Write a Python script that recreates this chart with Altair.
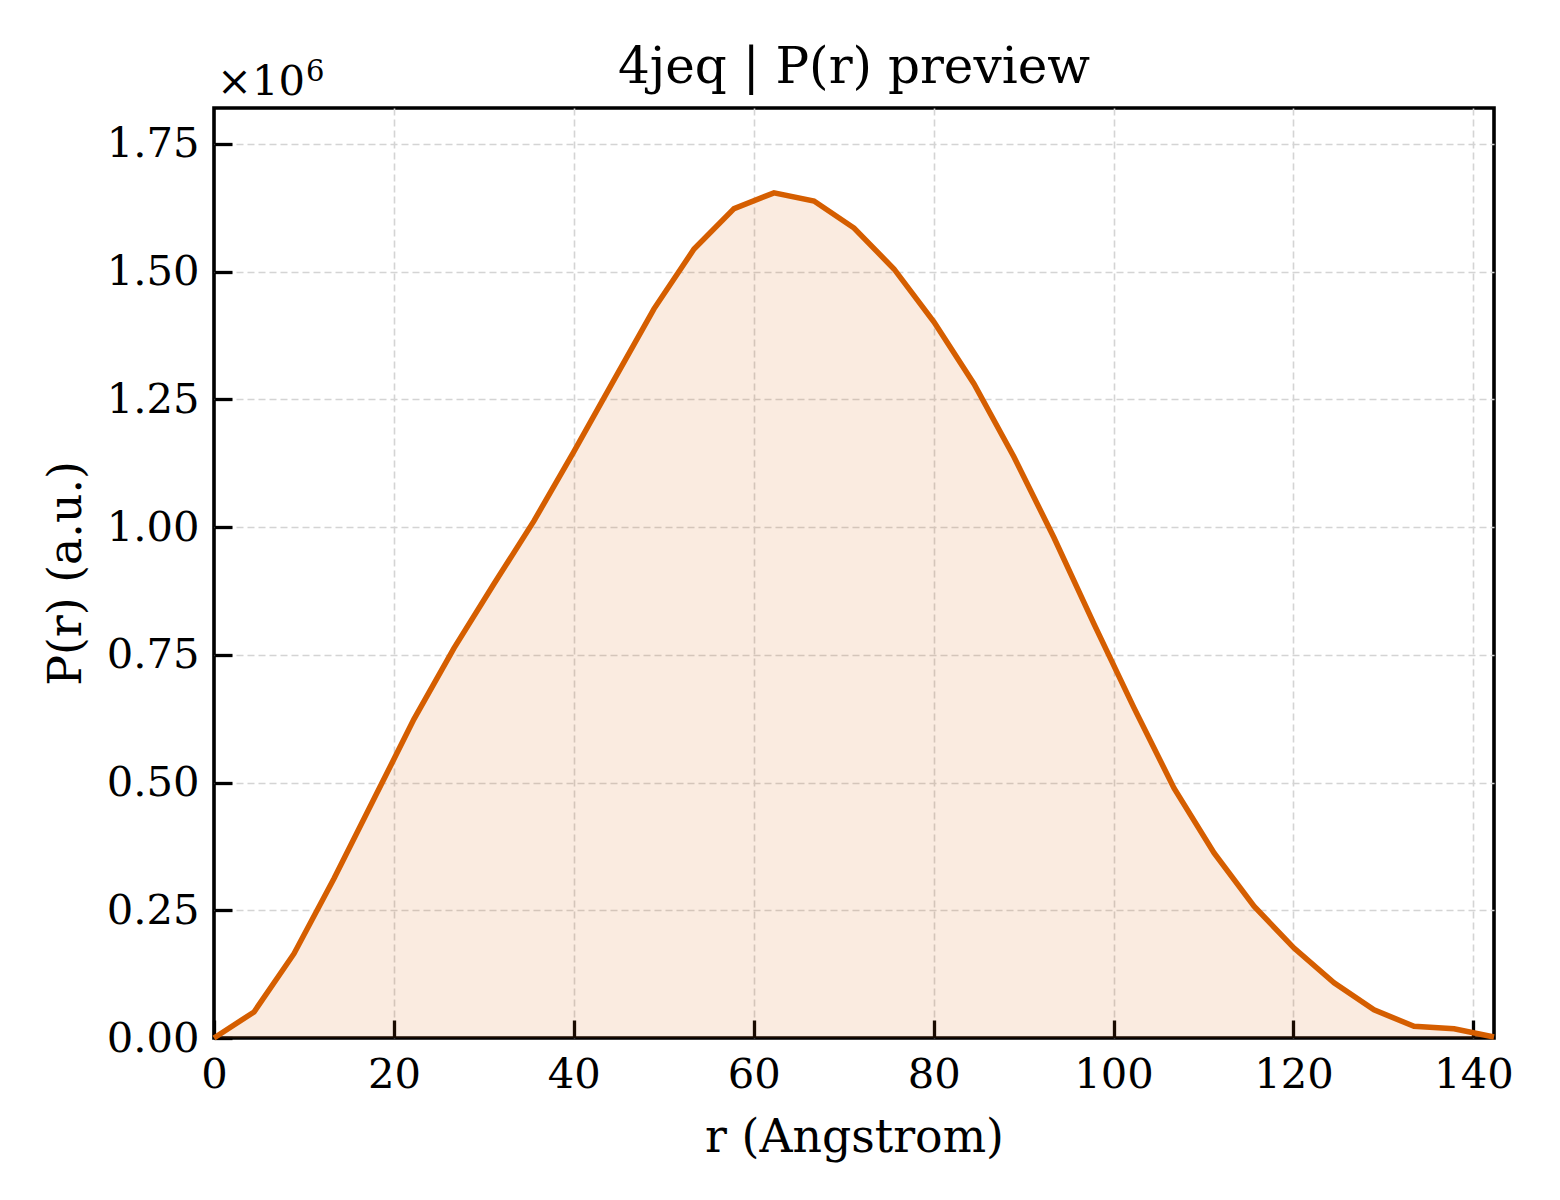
import altair as alt
import pandas as pd

# r (Angstrom) sample positions
r_vals = [0.00, 4.45, 8.89, 13.34, 17.79, 22.23, 26.68, 31.13, 35.57, 40.02,
          44.47, 48.91, 53.36, 57.81, 62.25, 66.70, 71.15, 75.59, 80.04, 84.49,
          88.93, 93.38, 97.83, 102.27, 106.72, 111.17, 115.61, 120.06, 124.51,
          128.95, 133.40, 137.85, 142.29]
# P(r) in units of 1e6
pr_vals = [0.000, 0.051, 0.165, 0.312, 0.468, 0.624, 0.763, 0.889, 1.012, 1.148,
           1.288, 1.427, 1.544, 1.623, 1.654, 1.638, 1.585, 1.505, 1.401, 1.280,
           1.137, 0.979, 0.810, 0.646, 0.489, 0.362, 0.258, 0.176, 0.108, 0.055,
           0.023, 0.018, 0.002]

x_ticks = [0, 20, 40, 60, 80, 100, 120, 140]
y_ticks = [0.0, 0.25, 0.5, 0.75, 1.0, 1.25, 1.5, 1.75]

title_text = "4jeq | P(r) preview"
offset_base = "×10"
offset_exp = "6"

df = pd.DataFrame({"r": r_vals, "pr": pr_vals})

FONT = "DejaVu Serif"
LINE = "#D55E00"
W, H = 1280, 930

grid_op = alt.condition("datum.value == 0", alt.value(0), alt.value(1))

x_enc = alt.X("r:Q",
              scale=alt.Scale(domain=[0, 142.29], nice=False, zero=False),
              axis=alt.Axis(values=x_ticks, title="r (Angstrom)", format="d",
                            offset=-18, tickSize=18, tickWidth=3.3, tickColor="black",
                            domain=False, labelPadding=16, titlePadding=20,
                            labelFlush=False, labelOverlap=False,
                            grid=True, gridColor="#d4d4d4", gridWidth=1.6,
                            gridDash=[7, 4], gridOpacity=grid_op))
y_enc = alt.Y("pr:Q",
              scale=alt.Scale(domain=[0, 1.82], nice=False),
              axis=alt.Axis(values=y_ticks, title="P(r) (a.u.)", format=".2f",
                            offset=-18, tickSize=18, tickWidth=3.3, tickColor="black",
                            domain=False, labelPadding=15, titlePadding=16,
                            labelFlush=False, labelOverlap=False,
                            grid=True, gridColor="#d4d4d4", gridWidth=1.6,
                            gridDash=[7, 4], gridOpacity=grid_op))

area = alt.Chart(df).mark_area(color=LINE, opacity=0.12).encode(x=x_enc, y=y_enc)
line = alt.Chart(df).mark_line(color=LINE, strokeWidth=5.5).encode(x="r:Q", y="pr:Q")

offset_text = alt.Chart(pd.DataFrame({"t": [offset_base]})).mark_text(
    font=FONT, fontSize=41.7, align="left", baseline="alphabetic", color="black"
).encode(x=alt.value(3), y=alt.value(-13), text="t:N")

offset_sup = alt.Chart(pd.DataFrame({"t": [offset_exp]})).mark_text(
    font=FONT, fontSize=29, align="left", baseline="alphabetic", color="black"
).encode(x=alt.value(92), y=alt.value(-27), text="t:N")

title_mark = alt.Chart(pd.DataFrame({"t": [title_text]})).mark_text(
    font=FONT, fontSize=50, align="center", baseline="alphabetic", color="black"
).encode(x=alt.value(W / 2), y=alt.value(-25), text="t:N")

chart = alt.layer(area, line, offset_text, offset_sup, title_mark).properties(
    width=W, height=H,
    autosize=alt.AutoSizeParams(type="none"),
    padding={"left": 206, "top": 100, "right": 50, "bottom": 150},
).configure_view(
    stroke="black", strokeWidth=3.6
).configure_axis(
    labelFont=FONT, titleFont=FONT, labelFontSize=41.7, titleFontSize=45.8,
    labelColor="black", titleColor="black", titleFontWeight="normal",
)

chart.save("out.html", embed_options={"renderer": "svg", "actions": False})
